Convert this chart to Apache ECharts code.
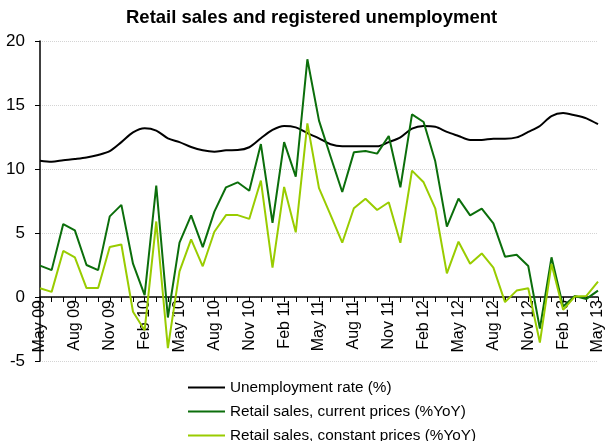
<!DOCTYPE html>
<html>
<head>
<meta charset="utf-8">
<script src="https://cdn.jsdelivr.net/npm/echarts@6/dist/echarts.min.js"></script>
<style>
  html, body { margin: 0; padding: 0; background: #fff; }
  #chart { width: 606px; height: 441px; }
</style>
</head>
<body>
<div id="chart"></div>
<script>
// months May 09 .. May 13
var monthNames = ["Jan", "Feb", "Mar", "Apr", "May", "Jun", "Jul", "Aug", "Sep", "Oct", "Nov", "Dec"];
var categories = [];
for (var k = 0; k < 49; k++) {
  var m = (4 + k) % 12;
  var y = 9 + Math.floor((4 + k) / 12);
  categories.push(monthNames[m] + " " + (y < 10 ? "0" + y : y));
}

var unemployment = [
  10.65, 10.57, 10.68, 10.78, 10.9, 11.1, 11.4, 12.1, 12.86, 13.18, 13.0, 12.4,
  12.1, 11.72, 11.46, 11.35, 11.46, 11.48, 11.7, 12.4, 13.05, 13.36, 13.25, 12.8,
  12.4, 11.93, 11.77, 11.77, 11.77, 11.77, 12.1, 12.47, 13.15, 13.36, 13.3, 12.9,
  12.58, 12.27, 12.27, 12.37, 12.37, 12.47, 12.9, 13.36, 14.14, 14.37, 14.2, 13.96,
  13.5
];
var currentPrices = [
  2.45, 2.1, 5.7, 5.2, 2.5, 2.1, 6.3, 7.2, 2.6, 0.15, 8.7, -1.6,
  4.25, 6.38, 3.9, 6.67, 8.57, 8.96, 8.3, 11.95, 5.8, 12.1, 9.4, 18.57,
  13.78, 10.96, 8.2, 11.3, 11.4, 11.2, 12.58, 8.57, 14.27, 13.67, 10.6, 5.5,
  7.68, 6.38, 6.9, 5.75, 3.15, 3.3, 2.42, -2.47, 3.1, -0.75, 0.08, -0.15,
  0.5
];
var constantPrices = [
  0.68, 0.4, 3.6, 3.1, 0.7, 0.7, 3.9, 4.1, -1.15, -2.6, 5.9, -4.0,
  2.0, 4.5, 2.4, 5.1, 6.4, 6.4, 6.1, 9.1, 2.3, 8.6, 5.05, 13.57,
  8.5, 6.4, 4.24, 6.93, 7.68, 6.8, 7.4, 4.24, 9.87, 8.96, 6.93, 1.85,
  4.32, 2.6, 3.4, 2.3, -0.4, 0.5, 0.68, -3.56, 2.58, -1.0, 0.03, 0.08,
  1.2
];

var font = "Arial, 'Liberation Sans', sans-serif";
var chart = echarts.init(document.getElementById("chart"));
chart.setOption({
  animation: false,
  title: {
    text: "Retail sales and registered unemployment",
    left: 126,
    top: 8,
    padding: 0,
    textStyle: { fontFamily: font, fontSize: 18.5, fontWeight: "bold", color: "#000" }
  },
  legend: {
    orient: "vertical",
    left: 188,
    top: 379,
    height: 120,
    padding: 0,
    itemWidth: 37,
    itemHeight: 2,
    itemGap: 7,
    icon: "rect",
    textStyle: { fontFamily: font, fontSize: 15.3, color: "#000", lineHeight: 17 },
    data: ["Unemployment rate (%)", "Retail sales, current prices (%YoY)", "Retail sales, constant prices (%YoY)"]
  },
  grid: { left: 40, right: 3, top: 41, bottom: 80 },
  xAxis: {
    type: "category",
    data: categories,
    boundaryGap: false,
    offset: -64, // sit the axis on the zero line, labels included
    axisLine: { onZero: false, lineStyle: { color: "#000", width: 1.5 } },
    axisTick: { interval: 0, length: 5, lineStyle: { color: "#000" } },
    axisLabel: {
      interval: 2,
      rotate: 90,
      margin: 3,
      fontFamily: font,
      fontSize: 16,
      color: "#000"
    },
    splitLine: { show: false }
  },
  yAxis: {
    type: "value",
    min: -5,
    max: 20,
    interval: 5,
    axisLine: { show: true, lineStyle: { color: "#000", width: 1.5 } },
    axisTick: { show: true, length: 5, lineStyle: { color: "#000" } },
    axisLabel: { fontFamily: font, fontSize: 17, color: "#000", margin: 15 },
    splitLine: { lineStyle: { color: "#d4d4d4", type: "dotted" } }
  },
  series: [
    {
      name: "Unemployment rate (%)",
      type: "line",
      data: unemployment,
      smooth: 0.3,
      symbol: "none",
      lineStyle: { color: "#000", width: 2 },
      itemStyle: { color: "#000" }
    },
    {
      name: "Retail sales, current prices (%YoY)",
      type: "line",
      data: currentPrices,
      symbol: "none",
      lineStyle: { color: "#0b6e0b", width: 2 },
      itemStyle: { color: "#0b6e0b" }
    },
    {
      name: "Retail sales, constant prices (%YoY)",
      type: "line",
      data: constantPrices,
      symbol: "none",
      lineStyle: { color: "#99cc00", width: 2 },
      itemStyle: { color: "#99cc00" }
    }
  ]
});
</script>
</body>
</html>
